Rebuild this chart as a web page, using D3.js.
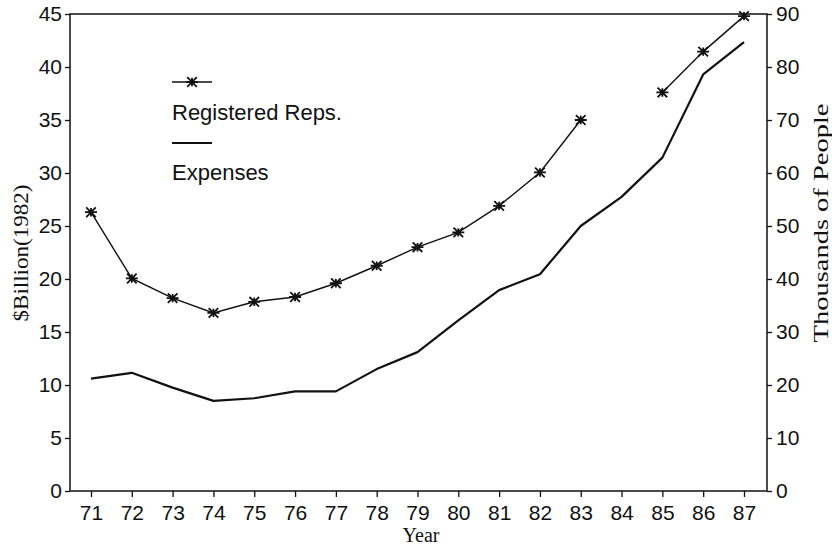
<!DOCTYPE html>
<html>
<head>
<meta charset="utf-8">
<script src="https://cdn.jsdelivr.net/npm/d3@7"></script>
<style>
	html, body { margin: 0; padding: 0; background: #fff; }
	svg { display: block; }
</style>
</head>
<body>
<div id="chart"></div>
<script>
// data
var years = [71, 72, 73, 74, 75, 76, 77, 78, 79, 80, 81, 82, 83, 84, 85, 86, 87];
// $Billion(1982), left axis
var expenses = [10.6, 11.15, 9.75, 8.5, 8.75, 9.4, 9.4, 11.5, 13.1, 16.1, 18.95, 20.45, 25.0, 27.75, 31.45, 39.3, 42.35];
// thousands of people, right axis (no value for 84)
var registeredReps = [52.6, 40.1, 36.4, 33.6, 35.7, 36.6, 39.2, 42.5, 46.0, 48.8, 53.8, 60.1, 70.0, null, 75.2, 82.9, 89.6];
var leftTicks = [0, 5, 10, 15, 20, 25, 30, 35, 40, 45];
var rightTicks = [0, 10, 20, 30, 40, 50, 60, 70, 80, 90];
var seriesNames = ["Registered Reps.", "Expenses"];

const width = 832, height = 548;
const frame = {left: 70, right: 767, top: 14, bottom: 491};
const sans = '"Liberation Sans", Arial, Helvetica, sans-serif';
const serif = '"Liberation Serif", "Times New Roman", Times, serif';

const svg = d3.select('#chart').append('svg')
	.attr('width', width)
	.attr('height', height);

const x = d3.scaleLinear().domain([71, 87]).range([91, 744]);
const yLeft = d3.scaleLinear().domain([0, 45]).range([frame.bottom, frame.top]);
const yRight = d3.scaleLinear().domain([0, 90]).range([frame.bottom, frame.top]);

// axis look, same for all three
const styleAxis = g => {
	g.select('.domain').remove();
	g.attr('font-family', sans).attr('font-size', 21);
	g.selectAll('.tick line').attr('stroke', '#111').attr('stroke-width', 1.3);
	g.selectAll('.tick text').attr('fill', '#111');
};

svg.append('g')
	.attr('transform', `translate(${frame.left},0)`)
	.call(d3.axisLeft(yLeft).tickValues(leftTicks).tickSize(5).tickPadding(3).tickSizeOuter(0))
	.call(styleAxis);

svg.append('g')
	.attr('transform', `translate(${frame.right},0)`)
	.call(d3.axisRight(yRight).tickValues(rightTicks).tickSize(5).tickPadding(4).tickSizeOuter(0))
	.call(styleAxis);

svg.append('g')
	.attr('transform', `translate(0,${frame.bottom})`)
	.call(d3.axisBottom(x).tickValues(years).tickFormat(d3.format('d')).tickSize(6).tickPadding(8).tickSizeOuter(0))
	.call(styleAxis);

// box round the plot
svg.append('rect')
	.attr('x', frame.left)
	.attr('y', frame.top)
	.attr('width', frame.right - frame.left)
	.attr('height', frame.bottom - frame.top)
	.attr('fill', 'none')
	.attr('stroke', '#111')
	.attr('stroke-width', 1.5);

// axis titles
svg.append('text')
	.attr('transform', 'translate(28,253) rotate(-90)')
	.attr('text-anchor', 'middle')
	.attr('font-family', serif)
	.attr('font-size', 22)
	.attr('textLength', 137)
	.attr('lengthAdjust', 'spacingAndGlyphs')
	.attr('fill', '#111')
	.text('$Billion(1982)');

svg.append('text')
	.attr('transform', 'translate(828,223) rotate(-90)')
	.attr('text-anchor', 'middle')
	.attr('font-family', serif)
	.attr('font-size', 22)
	.attr('textLength', 239)
	.attr('lengthAdjust', 'spacingAndGlyphs')
	.attr('fill', '#111')
	.text('Thousands of People');

svg.append('text')
	.attr('x', 421)
	.attr('y', 542)
	.attr('text-anchor', 'middle')
	.attr('font-family', serif)
	.attr('font-size', 20)
	.attr('fill', '#111')
	.text('Year');

// lines
const expenseLine = d3.line()
	.x((d, i) => x(years[i]))
	.y(d => yLeft(d));

const repsLine = d3.line()
	.defined(d => d != null)
	.x((d, i) => x(years[i]))
	.y(d => yRight(d));

svg.append('path')
	.datum(expenses)
	.attr('d', expenseLine)
	.attr('fill', 'none')
	.attr('stroke', '#111')
	.attr('stroke-width', 2.2)
	.attr('stroke-linejoin', 'round');

svg.append('path')
	.datum(registeredReps)
	.attr('d', repsLine)
	.attr('fill', 'none')
	.attr('stroke', '#111')
	.attr('stroke-width', 1.4);

// star marker
function star(g, s) {
	g.append('path')
		.attr('d', `M${-s},0H${s}M${-s * 0.8},${-s * 0.8}L${s * 0.8},${s * 0.8}M${-s * 0.8},${s * 0.8}L${s * 0.8},${-s * 0.8}M0,${-s * 0.7}V${s * 0.7}`)
		.attr('stroke', '#111')
		.attr('stroke-width', 1.8)
		.attr('fill', 'none');
}

const pts = years.map((yr, i) => ({year: yr, value: registeredReps[i]})).filter(d => d.value != null);
svg.append('g')
	.selectAll('g').data(pts).enter().append('g')
	.attr('transform', d => `translate(${x(d.year)},${yRight(d.value)})`)
	.each(function() { star(d3.select(this), 6); });

// legend
const legend = svg.append('g').attr('transform', 'translate(172,0)');

legend.append('line')
	.attr('x1', 0).attr('x2', 40).attr('y1', 82).attr('y2', 82)
	.attr('stroke', '#111').attr('stroke-width', 1.4);
star(legend.append('g').attr('transform', 'translate(20,82)'), 6);
legend.append('text')
	.attr('x', 0).attr('y', 120)
	.attr('font-family', sans).attr('font-size', 22).attr('fill', '#111')
	.text(seriesNames[0]);

legend.append('line')
	.attr('x1', 0).attr('x2', 40).attr('y1', 143).attr('y2', 143)
	.attr('stroke', '#111').attr('stroke-width', 2.2);
legend.append('text')
	.attr('x', 0).attr('y', 180)
	.attr('font-family', sans).attr('font-size', 22).attr('fill', '#111')
	.text(seriesNames[1]);
</script>
</body>
</html>
